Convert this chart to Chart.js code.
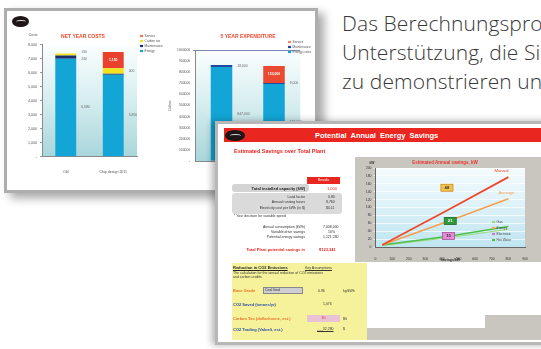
<!DOCTYPE html>
<html lang="de">
<head>
<meta charset="utf-8">
<script src="https://cdn.jsdelivr.net/npm/chart.js@4.4.1/dist/chart.umd.min.js"></script>
<style>
  html, body { margin: 0; padding: 0; background: #fff; }
  body { width: 541px; height: 349px; position: relative; overflow: hidden; font-family: "Liberation Sans", Arial, sans-serif; }
  .sheet { position: absolute; box-sizing: border-box; background: #fff; overflow: hidden; }
  #sheetA { left: 4px; top: 8px; width: 314px; height: 185px; border: 3px solid #aeaeae; box-shadow: 6px 5px 9px rgba(0,0,0,.35); filter: blur(.5px); }
  #sheetB { left: 215px; top: 121px; width: 340px; height: 224px; border: 3px solid #b7b7b7; box-shadow: -3px 0 7px rgba(0,0,0,.3); filter: blur(.5px); }
  canvas { position: absolute; }
  .abs { position: absolute; white-space: nowrap; }
  .logo { position: absolute; border-radius: 50%; background: #1e1616; overflow: hidden; }
  .logo i { position: absolute; left: 25%; top: 38%; width: 55%; height: 30%; border-top: 1.5px solid #ddd; border-radius: 50%; }
  #blurb { position: absolute; left: 342px; top: 9px; font-family: "Open Sans", sans-serif; font-weight: 300;
           font-size: 21px; line-height: 29px; color: #383838; white-space: nowrap; letter-spacing: 0.1px; }
  .hdr { left: 6px; top: 4px; width: 330px; height: 14px; background: #e9261f; }
  .grey { background: #d4d4d4; border-radius: 3px; }
  .r { text-align: right; }
  .t4 { font-size: 4px; color: #222; }
  .t35 { font-size: 3.5px; color: #333; }
  .red { color: #e3261f; }
  .org { color: #e8732a; font-weight: bold; }
  .blu { color: #2b4fa3; font-weight: bold; }
</style>
</head>
<body>

<div class="sheet" id="sheetA">
  <div class="logo" style="left:5px;top:5px;width:17px;height:11px;"><i></i></div>
  <canvas id="netCosts" width="154" height="146" style="left:11px;top:17px;"></canvas>
  <canvas id="expenditure" width="148" height="147" style="left:161px;top:17px;"></canvas>
</div>

<div id="blurb">Das Berechnungsprogramm bietet Ihnen<br>Unterstützung, die Sie benötigen, um Ihren Kunden<br>zu demonstrieren und zu überzeugen</div>

<div class="sheet" id="sheetB">
  <div class="abs hdr">
    <div class="logo" style="left:1px;top:2px;width:20px;height:11px;"><i></i></div>
    <div class="abs" style="left:91px;top:3px;font-size:7.5px;font-weight:bold;color:#fff;word-spacing:2px;">Potential Annual Energy Savings</div>
  </div>
  <div class="abs red" style="left:16px;top:24px;font-size:5.5px;font-weight:bold;">Estimated Savings over Total Plant</div>

  <div class="abs" style="left:89px;top:53px;width:33px;height:7px;background:#e9261f;color:#fff;font-size:3.5px;line-height:7px;text-align:center;">Results</div>
  <div class="abs grey" style="left:14px;top:60px;width:77px;height:8px;"></div>
  <div class="abs t4 r" style="left:14px;top:62px;width:73px;font-weight:bold;">Total installed capacity (kW)</div>
  <div class="abs t4 red" style="left:109px;top:62px;">1,000</div>

  <div class="abs grey" style="left:14px;top:69px;width:110px;height:21px;background:#dadada;"></div>
  <div class="abs t35 r" style="left:14px;top:71px;width:73px;">Load factor</div>
  <div class="abs t35 r" style="left:14px;top:76px;width:73px;">Annual running hours</div>
  <div class="abs t35 r" style="left:14px;top:82px;width:73px;">Electricity cost per kWh (in $)</div>
  <div class="abs t35" style="left:110px;top:71px;">0.80</div>
  <div class="abs t35" style="left:108px;top:76px;">8,760</div>
  <div class="abs t35" style="left:108px;top:82px;">$0.11</div>
  <div class="abs t35" style="left:16px;top:90px;">* Your decision for variable speed</div>

  <div class="abs t35 r" style="left:14px;top:101px;width:73px;">Annual consumption (kWh)</div>
  <div class="abs t35 r" style="left:14px;top:106px;width:73px;">Variable drive savings</div>
  <div class="abs t35 r" style="left:14px;top:111px;width:73px;">Potential energy savings</div>
  <div class="abs t35" style="left:105px;top:101px;">7,008,000</div>
  <div class="abs t35" style="left:110px;top:106px;">16%</div>
  <div class="abs t35" style="left:105px;top:111px;">1,121,280</div>
  <div class="abs t4 r red" style="left:4px;top:123px;width:83px;font-weight:bold;">Total Plant potential savings in</div>
  <div class="abs t4 red" style="left:101px;top:123px;font-weight:bold;">$123,341</div>

  <div class="abs" style="left:14px;top:139px;width:135px;height:77px;background:#f6f29b;">
    <div class="abs t4" style="left:1px;top:2px;font-weight:bold;text-decoration:underline;">Reduction in CO2 Emissions</div>
    <div class="abs t35" style="left:73px;top:3px;text-decoration:underline;">Key Assumptions</div>
    <div class="abs t35" style="left:1px;top:8px;">The calculation for the annual reduction of CO2 emissions</div>
    <div class="abs t35" style="left:1px;top:12px;">and carbon credits</div>
    <div class="abs t4 org" style="left:1px;top:25px;">Base Grade</div>
    <div class="abs t35" style="left:31px;top:24px;width:38px;height:5px;background:#cfcfcf;border:1px solid #888;line-height:5px;">&nbsp;Coal fired</div>
    <div class="abs t35" style="left:86px;top:26px;">0.96</div>
    <div class="abs t35" style="left:111px;top:26px;">kg/kWh</div>
    <div class="abs t4 blu" style="left:1px;top:39px;">CO2 Saved (tonnes/yr)</div>
    <div class="abs t35" style="left:91px;top:39px;">1,076</div>
    <div class="abs t4 org" style="left:1px;top:53px;">Carbon Tax (dollar/tonne, est.)</div>
    <div class="abs t35 red" style="left:75px;top:52px;width:33px;height:7px;background:#e9c3d5;line-height:7px;text-align:center;">30</div>
    <div class="abs t35" style="left:111px;top:54px;">$/t</div>
    <div class="abs t4 blu" style="left:1px;top:64px;">CO2 Trading (Value/t, est.)</div>
    <div class="abs t35" style="left:85px;top:64px;text-decoration:underline;">___32,280</div>
    <div class="abs t35" style="left:111px;top:64px;">$</div>
  </div>

  <div class="abs" style="left:149px;top:204px;width:118px;height:12px;background:#c9c5bf;"></div>
  <div class="abs" style="left:267px;top:191px;width:80px;height:25px;background:#c9c5bf;"></div>

  <div class="abs" style="left:137px;top:33px;width:200px;height:105px;background:#c9c5bf;"></div>
  <canvas id="savings" width="185" height="104" style="left:138px;top:34px;"></canvas>
</div>

<script>
// net year costs (stacked, per plant)
const costCats = ['Old', 'Chip design 2011'];
const costEnergy = [6980, 5850];
const costMaint = [240, 60];
const costCarbon = [130, 400];
const costService = [0, 1150];

// 5 year expenditure
const expCats = ['Old', 'Chip design 2011'];
const expEnergy = [847000, 694000];
const expMaint = [18000, 9000];
const expService = [0, 153000];

// estimated annual savings vs. capacity
const saveX = [40, 450, 800];
const manualY = [5, 97, 177];
const averageY = [5, 67, 122];
const hotWaterY = [5, 28, 52];
const gasY = [4, 24, 45];
const calloutX = [430, 450, 440];
const calloutY = [150, 66, 28];
const calloutText = ['48', '21', '10'];
const keyNames = ['Gas', 'Energy', 'Electronic', 'Hot Water'];
const keyColors = ['#9edb7e', '#f5a04e', '#c77ad6', '#4fbf4f'];

const fmt = v => v.toLocaleString('en-US');
const FONT = 'Liberation Sans, Arial, sans-serif';

// gradient behind the plotting area
const plotBg = {
  id: 'plotBg',
  beforeDraw(chart, args, opts) {
    if (!opts.colors) return;
    const { ctx, chartArea: a } = chart;
    const g = ctx.createLinearGradient(0, a.top, 0, a.bottom);
    opts.colors.forEach((c, i) => g.addColorStop(i / (opts.colors.length - 1), c));
    ctx.save();
    ctx.fillStyle = g;
    ctx.fillRect(a.left, a.top, a.right - a.left, a.bottom - a.top);
    ctx.restore();
  }
};

// loose text (titles, unit captions)
const notes = {
  id: 'notes',
  afterDraw(chart, args, opts) {
    const ctx = chart.ctx;
    (opts.items || []).forEach(n => {
      ctx.save();
      ctx.font = `${n.bold ? 'bold ' : ''}${n.size}px ${FONT}`;
      ctx.fillStyle = n.color || '#444';
      ctx.textAlign = n.align || 'left';
      ctx.textBaseline = 'middle';
      ctx.translate(n.x, n.y);
      if (n.angle) ctx.rotate(n.angle);
      ctx.fillText(n.t, 0, 0);
      ctx.restore();
    });
  }
};

// small legend stacked top-down from the datasets
const sideLegend = {
  id: 'sideLegend',
  afterDraw(chart, args, opts) {
    if (opts.x === undefined) return;
    const ctx = chart.ctx;
    let list = chart.data.datasets.map(d => ({ label: d.label, color: d.legendColor || d.backgroundColor }));
    if (opts.names) list = opts.names.map((n, i) => ({ label: n, color: opts.colors[i] }));
    if (opts.reverse) list = list.slice().reverse();
    ctx.save();
    ctx.font = `${opts.size}px ${FONT}`;
    ctx.textBaseline = 'middle';
    list.forEach((it, i) => {
      const y = opts.y + i * opts.step;
      ctx.fillStyle = it.color;
      ctx.fillRect(opts.x, y - opts.box / 2, opts.box * 1.4, opts.box);
      ctx.fillStyle = opts.color || '#555';
      ctx.fillText(it.label, opts.x + opts.box * 1.4 + 1.5, y);
    });
    ctx.restore();
  }
};

// value tags beside / inside stacked segments
const barTags = {
  id: 'barTags',
  afterDatasetsDraw(chart, args, opts) {
    const ctx = chart.ctx;
    (opts.items || []).forEach(t => {
      const bar = chart.getDatasetMeta(t.ds).data[t.i];
      const v = chart.data.datasets[t.ds].data[t.i];
      const y = (bar.y + bar.base) / 2 + (t.dy || 0);
      ctx.save();
      ctx.font = `${t.pos === 'in' ? 'bold ' : ''}${opts.size}px ${FONT}`;
      ctx.textBaseline = 'middle';
      if (t.pos === 'in') {
        ctx.fillStyle = '#fff';
        ctx.textAlign = 'center';
        ctx.fillText(fmt(v), bar.x, y);
      } else {
        ctx.fillStyle = '#666';
        ctx.textAlign = 'left';
        ctx.fillText(fmt(v), bar.x + bar.width / 2 + 5, y);
      }
      ctx.restore();
    });
  }
};

// names at line ends and boxed callouts
const lineTags = {
  id: 'lineTags',
  afterDatasetsDraw(chart, args, opts) {
    const ctx = chart.ctx;
    const sx = chart.scales.x, sy = chart.scales.y;
    ctx.save();
    ctx.font = `${opts.size}px ${FONT}`;
    ctx.textBaseline = 'middle';
    (opts.ends || []).forEach(e => {
      const ds = chart.data.datasets[e.ds];
      const pt = chart.getDatasetMeta(e.ds).data[ds.data.length - 1];
      ctx.fillStyle = ds.borderColor;
      ctx.textAlign = 'left';
      ctx.fillText(ds.label, pt.x + e.dx, pt.y + e.dy);
    });
    calloutX.forEach((x, i) => {
      const px = sx.getPixelForValue(x), py = sy.getPixelForValue(calloutY[i]);
      const b = opts.boxes[i];
      ctx.fillStyle = b.fill;
      ctx.strokeStyle = b.edge;
      ctx.lineWidth = 0.8;
      ctx.fillRect(px - 6, py - 3.5, 12, 7);
      ctx.strokeRect(px - 6, py - 3.5, 12, 7);
      ctx.fillStyle = b.ink;
      ctx.textAlign = 'center';
      ctx.font = `bold ${opts.size}px ${FONT}`;
      ctx.fillText(calloutText[i], px, py);
    });
    ctx.restore();
  }
};

const tinyTicks = (size, color) => ({ font: { size, family: FONT }, color });
const tealFade = ['#fbfefe', '#d6edef', '#a8d6db'];

new Chart(document.getElementById('netCosts'), {
  type: 'bar',
  data: {
    labels: costCats,
    datasets: [
      { label: 'Energy', data: costEnergy, backgroundColor: '#12a5d6' },
      { label: 'Maintenance', data: costMaint, backgroundColor: '#1d2f6b' },
      { label: 'Carbon tax', data: costCarbon, backgroundColor: '#f2e41c' },
      { label: 'Service', data: costService, backgroundColor: '#e9412b', legendColor: '#ef7a4e' },
    ],
  },
  options: {
    responsive: false,
    animation: false,
    layout: { padding: { left: 0, right: 35, top: 16.5, bottom: 0 } },
    datasets: { bar: { barPercentage: 0.44, categoryPercentage: 1 } },
    scales: {
      x: {
        stacked: true,
        grid: { display: false },
        border: { color: '#8a8a8a' },
        ticks: { ...tinyTicks(3.6, '#555'), padding: 5 },
        afterFit: s => { s.height = 17.3; },
      },
      y: {
        stacked: true,
        min: 0, max: 8000,
        grid: { drawOnChartArea: false, tickLength: 2, color: '#999' },
        border: { color: '#8a8a8a' },
        ticks: { ...tinyTicks(3.6, '#555'), stepSize: 1000, padding: 3, callback: v => v === 0 ? '-' : fmt(v) },
        afterFit: s => { s.width = 24; },
      },
    },
    plugins: {
      legend: { display: false },
      tooltip: { enabled: false },
      plotBg: { colors: tealFade },
      sideLegend: { x: 122, y: 8, step: 5, box: 2.2, size: 3.2, reverse: true },
      barTags: {
        size: 3.4,
        items: [
          { ds: 2, i: 0, dy: -2 }, { ds: 1, i: 0, dy: 1.5 }, { ds: 0, i: 0 },
          { ds: 2, i: 1 }, { ds: 0, i: 1 }, { ds: 3, i: 1, pos: 'in' },
        ],
      },
      notes: {
        items: [
          { t: 'NET YEAR COSTS', x: 65, y: 9, size: 5, bold: true, color: '#ee4a2a', align: 'center' },
          { t: 'Costs', x: 15, y: 7, size: 3.4, color: '#555', align: 'center' },
        ],
      },
    },
  },
  plugins: [plotBg, sideLegend, barTags, notes],
});

new Chart(document.getElementById('expenditure'), {
  type: 'bar',
  data: {
    labels: expCats,
    datasets: [
      { label: 'Energy costs', data: expEnergy, backgroundColor: '#12a5d6' },
      { label: 'Maintenance', data: expMaint, backgroundColor: '#1f4aa0' },
      { label: 'Service', data: expService, backgroundColor: '#ea4a32', legendColor: '#f08a5e' },
    ],
  },
  options: {
    responsive: false,
    animation: false,
    layout: { padding: { left: 0, right: 15.75, top: 22, bottom: 0 } },
    datasets: { bar: { barPercentage: 0.41, categoryPercentage: 1 } },
    scales: {
      x: {
        stacked: true,
        grid: { display: false },
        border: { color: '#8a8a8a' },
        ticks: { ...tinyTicks(3.6, '#555'), padding: 4 },
        afterFit: s => { s.height = 14; },
      },
      y: {
        stacked: true,
        min: 0, max: 1000000,
        grid: {
          tickLength: 2,
          color: c => c.tick && c.tick.value === 1000000 ? '#5a6f9a' : 'rgba(0,0,0,0)',
          lineWidth: 0.8,
        },
        border: { color: '#8a8a8a' },
        title: { display: true, text: 'Dollars', font: { size: 3.4, family: FONT }, color: '#555', padding: 0 },
        ticks: { ...tinyTicks(3.4, '#555'), stepSize: 100000, padding: 3, callback: v => v === 0 ? '-' : String(v) },
        afterFit: s => { s.width = 27.25; },
      },
    },
    plugins: {
      legend: { display: false },
      tooltip: { enabled: false },
      plotBg: { colors: tealFade },
      sideLegend: { x: 120, y: 14, step: 5, box: 2.2, size: 3.2, reverse: true },
      barTags: {
        size: 3.4,
        items: [
          { ds: 1, i: 0 }, { ds: 0, i: 0 },
          { ds: 1, i: 1 }, { ds: 0, i: 1 }, { ds: 2, i: 1, pos: 'in' },
        ],
      },
      notes: {
        items: [
          { t: '5 YEAR EXPENDITURE', x: 80, y: 9, size: 5, bold: true, color: '#ee4a2a', align: 'center' },
        ],
      },
    },
  },
  plugins: [plotBg, sideLegend, barTags, notes],
});

const pts = ys => saveX.map((x, i) => ({ x, y: ys[i] }));

new Chart(document.getElementById('savings'), {
  type: 'line',
  data: {
    datasets: [
      { label: 'Manual', data: pts(manualY), borderColor: '#f0482a', borderWidth: 1.8 },
      { label: 'Average', data: pts(averageY), borderColor: '#f5a04e', borderWidth: 1.5 },
      { label: 'Hot Water', data: pts(hotWaterY), borderColor: '#4fbf4f', borderWidth: 1.4 },
      { label: 'Gas', data: pts(gasY), borderColor: '#9edb7e', borderWidth: 1.2 },
    ],
  },
  options: {
    responsive: false,
    animation: false,
    elements: { point: { radius: 0 }, line: { tension: 0 } },
    layout: { padding: { left: 0, right: 16, top: 10, bottom: 0 } },
    scales: {
      x: {
        type: 'linear',
        min: 0, max: 900,
        grid: { display: false },
        border: { color: '#666' },
        title: { display: true, text: 'Savings/kW', font: { size: 3.5, weight: 'bold', family: FONT }, color: '#333', padding: 0 },
        ticks: { ...tinyTicks(3.4, '#333'), stepSize: 100, padding: 2 },
        afterFit: s => { s.height = 15; },
      },
      y: {
        min: 0, max: 200,
        grid: { color: 'rgba(255,255,255,0.85)', lineWidth: 0.8, tickLength: 2 },
        border: { color: '#666' },
        ticks: { ...tinyTicks(3.4, '#333'), stepSize: 20, padding: 2 },
        afterFit: s => { s.width = 19.5; },
      },
    },
    plugins: {
      legend: { display: false },
      tooltip: { enabled: false },
      plotBg: { colors: ['#f4fbfd', '#dcf1f8', '#bfe5f1'] },
      sideLegend: { x: 136, y: 64, step: 6, box: 2.2, size: 3.3, names: keyNames, colors: keyColors, color: '#444' },
      lineTags: {
        size: 4.3,
        ends: [{ ds: 0, dx: -14, dy: -6 }, { ds: 1, dx: -10, dy: -6 }],
        boxes: [
          { fill: '#f3c34a', edge: '#c98a1e', ink: '#333' },
          { fill: '#2f9a3c', edge: '#1f6a28', ink: '#fff' },
          { fill: '#e58ad8', edge: '#a8509a', ink: '#333' },
        ],
      },
      notes: {
        items: [
          { t: 'Estimated Annual savings, kW', x: 89, y: 5, size: 4.5, bold: true, color: '#e8332a', align: 'center' },
          { t: 'kW', x: 16, y: 5, size: 3.4, bold: true, color: '#333', align: 'center' },
        ],
      },
    },
  },
  plugins: [plotBg, sideLegend, lineTags, notes],
});
</script>
</body>
</html>
